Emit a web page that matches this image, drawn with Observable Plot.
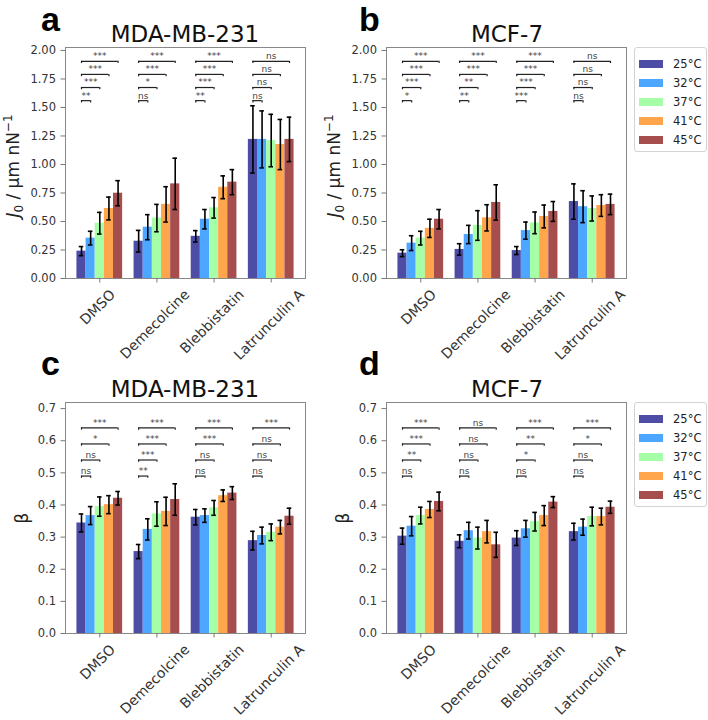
<!DOCTYPE html>
<html><head><meta charset="utf-8">
<script src="https://cdn.jsdelivr.net/npm/d3@7"></script>
<script src="https://cdn.jsdelivr.net/npm/@observablehq/plot@0.6"></script>
<style>
body{margin:0;background:#fff;}
#root{position:relative;width:708px;height:720px;overflow:hidden;font-family:"DejaVu Sans";background:#fff;}
.panel{position:absolute;}
.legend{position:absolute;border:1px solid #d3d3d3;border-radius:3px;background:#fff;font-family:"DejaVu Sans";font-size:11.5px;color:#222;box-sizing:border-box;}
.row{position:absolute;left:0;height:14px;display:flex;align-items:center;}
.patch{position:absolute;left:4px;width:24px;height:8px;}
.lab{position:absolute;left:38px;white-space:nowrap;line-height:14px;}
#overlay{position:absolute;left:0;top:0;pointer-events:none;}
</style></head><body><div id="root"></div>
<script>
// ---------- data ----------
const categories = ["DMSO", "Demecolcine", "Blebbistatin", "Latrunculin A"];
const temperatures = ["25°C", "32°C", "37°C", "41°C", "45°C"];
const colors = ["#4d4da6", "#4da6ff", "#a6ffa6", "#ffa64d", "#a64d4d"];

const j0Ticks = [0, 0.25, 0.5, 0.75, 1.0, 1.25, 1.5, 1.75, 2.0];
const betaTicks = [0, 0.1, 0.2, 0.3, 0.4, 0.5, 0.6, 0.7];

// J0 MDA-MB-231 (rows: categories, cols: temperatures)
const j0MDA = [[0.24, 0.354, 0.485, 0.614, 0.748], [0.327, 0.45, 0.53, 0.65, 0.83], [0.37, 0.52, 0.62, 0.80, 0.845], [1.22, 1.22, 1.21, 1.175, 1.22]];
const j0MDAErr = [[0.04, 0.06, 0.095, 0.10, 0.11], [0.095, 0.11, 0.12, 0.155, 0.225], [0.05, 0.085, 0.09, 0.10, 0.11], [0.295, 0.25, 0.23, 0.22, 0.195]];
// J0 MCF-7
const j0MCF = [[0.222, 0.31, 0.354, 0.44, 0.52], [0.255, 0.386, 0.465, 0.532, 0.667], [0.245, 0.42, 0.488, 0.544, 0.588], [0.675, 0.63, 0.614, 0.64, 0.65]];
const j0MCFErr = [[0.03, 0.065, 0.06, 0.08, 0.085], [0.05, 0.08, 0.13, 0.115, 0.155], [0.035, 0.075, 0.095, 0.10, 0.087], [0.155, 0.14, 0.11, 0.095, 0.09]];
// beta MDA-MB-231
const betaMDA = [[0.344, 0.367, 0.395, 0.401, 0.421], [0.255, 0.324, 0.372, 0.38, 0.417], [0.362, 0.367, 0.391, 0.429, 0.437], [0.289, 0.305, 0.315, 0.331, 0.365]];
const betaMDAErr = [[0.028, 0.028, 0.03, 0.028, 0.021], [0.022, 0.033, 0.038, 0.044, 0.049], [0.024, 0.021, 0.023, 0.018, 0.02], [0.029, 0.026, 0.026, 0.021, 0.025]];
// beta MCF-7
const betaMCF = [[0.303, 0.334, 0.367, 0.386, 0.411], [0.287, 0.32, 0.297, 0.317, 0.276], [0.297, 0.326, 0.348, 0.367, 0.409], [0.317, 0.331, 0.364, 0.364, 0.393]];
const betaMCFErr = [[0.025, 0.03, 0.026, 0.025, 0.029], [0.02, 0.026, 0.034, 0.035, 0.039], [0.023, 0.026, 0.029, 0.031, 0.017], [0.026, 0.025, 0.029, 0.026, 0.019]];

// significance: 25°C vs 32, 37, 41, 45 °C
const sigA = [["**", "***", "***", "***"], ["ns", "*", "***", "***"], ["**", "***", "***", "***"], ["ns", "ns", "ns", "ns"]];
const sigB = [["*", "***", "***", "***"], ["**", "**", "***", "***"], ["***", "***", "***", "***"], ["ns", "ns", "ns", "ns"]];
const sigC = [["ns", "ns", "*", "***"], ["**", "***", "***", "***"], ["ns", "ns", "***", "***"], ["ns", "ns", "ns", "***"]];
const sigD = [["ns", "**", "***", "***"], ["ns", "ns", "ns", "ns"], ["ns", "*", "**", "***"], ["ns", "ns", "*", "***"]];
const j0Levels = [1.56, 1.675, 1.79, 1.905];
const betaLevels = [0.49, 0.54, 0.59, 0.64];

// ---------- drawing ----------
const barW = 0.16;
const xFont = 14;
const ctx = document.createElement("canvas").getContext("2d");
ctx.font = `${xFont}px "DejaVu Sans"`;
const measure = s => ctx.measureText(s).width;

function panel({values, errors, sig, levels, yDomain, yTicks, yFormat, drop}) {
  const bars = [];
  values.forEach((row, ci) => row.forEach((v, ti) => bars.push({ci, ti, temp: temperatures[ti], v, e: errors[ci][ti]})));
  const cx = d => d.ci + (d.ti - 2) * barW;
  const caps = bars.flatMap(d => [{...d, y: d.v - d.e}, {...d, y: d.v + d.e}]);
  const brackets = [];
  sig.forEach((row, ci) => row.forEach((s, k) => brackets.push({s, level: levels[k], x1: ci - 2 * barW, x2: ci + (k - 1) * barW})));
  const ends = brackets.flatMap(b => [{x: b.x1, level: b.level}, {x: b.x2, level: b.level}]);
  const capHalf = 0.04;
  return Plot.plot({
    width: 320, height: 360, marginLeft: 65, marginRight: 15, marginTop: 47, marginBottom: 82,
    style: {fontFamily: "DejaVu Sans", background: "transparent", overflow: "visible"},
    x: {domain: [-0.6, 3.6], axis: null},
    y: {domain: yDomain, axis: null},
    color: {domain: temperatures, range: colors},
    marks: [
      Plot.rectY(bars, {x1: d => cx(d) - barW / 2, x2: d => cx(d) + barW / 2, y: "v", fill: "temp"}),
      Plot.ruleX(bars, {x: cx, y1: d => d.v - d.e, y2: d => d.v + d.e, stroke: "black", strokeWidth: 1.6}),
      Plot.ruleY(caps, {y: "y", x1: d => cx(d) - capHalf, x2: d => cx(d) + capHalf, stroke: "black", strokeWidth: 1.6}),
      Plot.ruleY(brackets, {y: "level", x1: "x1", x2: "x2", stroke: "#222", strokeWidth: 1.2}),
      Plot.ruleX(ends, {x: "x", y1: d => d.level - drop, y2: "level", stroke: "#222", strokeWidth: 1.2}),
      Plot.text(brackets, {x: d => (d.x1 + d.x2) / 2, y: "level", text: "s", dy: -5, fontSize: 9, fill: "#444"}),
      Plot.frame({stroke: "#888"}),
      Plot.axisY({ticks: yTicks, tickFormat: yFormat, tickSize: 4.5, tickPadding: 5, fontSize: 11.5, fill: "#333", stroke: "#777", label: null}),
      Plot.axisX({ticks: [0, 1, 2, 3], tickFormat: () => "", tickSize: 4.5, stroke: "#777", label: null}),
      ...categories.map((c, i) => Plot.text([c], {
        x: () => i, frameAnchor: "bottom", text: d => d, rotate: -45,
        textAnchor: "middle", lineAnchor: "middle", fontSize: xFont, fill: "#333",
        dx: -2,
        dy: 9 + 0.3536 * (measure(c) + 0.95 * xFont)
      }))
    ]
  });
}

const root = document.getElementById("root");
const f2 = d3.format(".2f"), f1 = d3.format(".1f");
const panels = [
  {left: 0, top: 0, values: j0MDA, errors: j0MDAErr, sig: sigA, levels: j0Levels, yDomain: [0, 2.026], yTicks: j0Ticks, yFormat: f2, drop: 0.02},
  {left: 321, top: 0, values: j0MCF, errors: j0MCFErr, sig: sigB, levels: j0Levels, yDomain: [0, 2.026], yTicks: j0Ticks, yFormat: f2, drop: 0.02},
  {left: 0, top: 355, values: betaMDA, errors: betaMDAErr, sig: sigC, levels: betaLevels, yDomain: [0, 0.719], yTicks: betaTicks, yFormat: f1, drop: 0.007},
  {left: 321, top: 355, values: betaMCF, errors: betaMCFErr, sig: sigD, levels: betaLevels, yDomain: [0, 0.719], yTicks: betaTicks, yFormat: f1, drop: 0.007}
];
for (const p of panels) {
  const el = panel(p);
  el.classList.add("panel");
  el.style.left = p.left + "px";
  el.style.top = p.top + "px";
  root.appendChild(el);
}

// legends
function legend(top) {
  const lg = document.createElement("div");
  lg.className = "legend";
  lg.style.left = "634px"; lg.style.top = top + "px"; lg.style.width = "73px"; lg.style.height = "105px";
  temperatures.forEach((t, i) => {
    const row = document.createElement("div");
    row.className = "row";
    row.style.top = (9 + i * 18.9) + "px";
    row.style.width = "73px";
    row.innerHTML = `<div class="patch" style="background:${colors[i]}"></div><div class="lab">${t}</div>`;
    lg.appendChild(row);
  });
  root.appendChild(lg);
}
legend(47);
legend(402);

// overlay text: panel letters, titles, y labels
const NS = "http://www.w3.org/2000/svg";
const ov = document.createElementNS(NS, "svg");
ov.setAttribute("id", "overlay");
ov.setAttribute("width", 708); ov.setAttribute("height", 720);
ov.innerHTML = `
<g font-family="Liberation Sans, Arial, sans-serif" font-weight="bold" font-size="34" fill="#000">
  <text x="41" y="31">a</text>
  <text x="359" y="31">b</text>
  <text x="41" y="375">c</text>
  <text x="359" y="375">d</text>
</g>
<g font-family="DejaVu Sans" font-size="23" fill="#111" text-anchor="middle">
  <text x="185" y="42">MDA-MB-231</text>
  <text x="507" y="42">MCF-7</text>
  <text x="185" y="397">MDA-MB-231</text>
  <text x="507" y="397">MCF-7</text>
</g>
<g font-family="DejaVu Sans" font-size="17" fill="#222" text-anchor="middle">
  <text transform="translate(19,166) rotate(-90)"><tspan font-style="italic">J</tspan><tspan font-size="12" dy="4">0</tspan><tspan dy="-4"> / μm nN</tspan><tspan font-size="12" dy="-7">−1</tspan></text>
  <text transform="translate(340,166) rotate(-90)"><tspan font-style="italic">J</tspan><tspan font-size="12" dy="4">0</tspan><tspan dy="-4"> / μm nN</tspan><tspan font-size="12" dy="-7">−1</tspan></text>
  <text transform="translate(28,518) rotate(-90)">β</text>
  <text transform="translate(349,518) rotate(-90)">β</text>
</g>`;
root.appendChild(ov);
</script>
</body></html>
